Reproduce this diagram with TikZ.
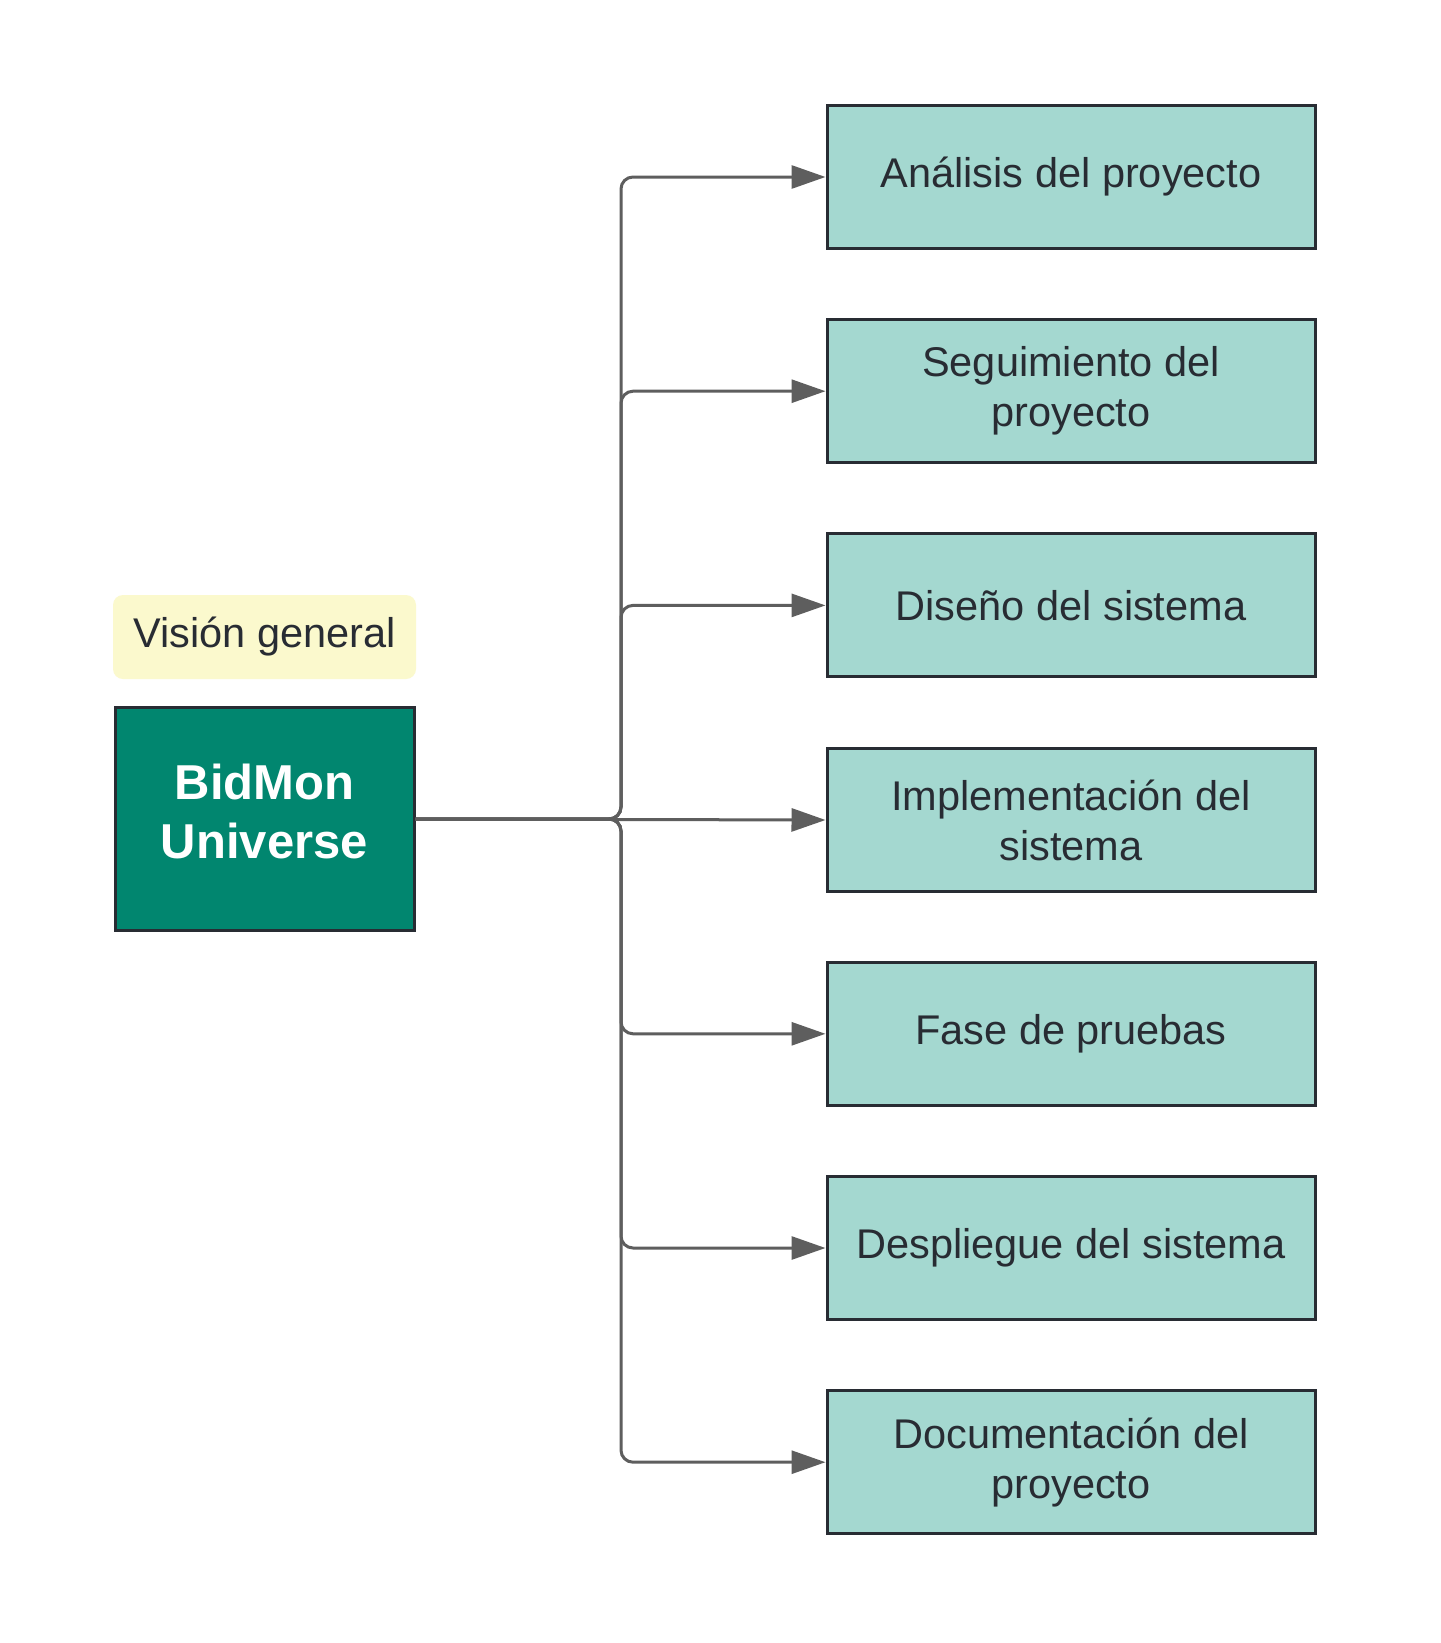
\documentclass[tikz,border=0pt]{standalone}
\usepackage{fontspec}
\setmainfont{Liberation Sans}
\usetikzlibrary{arrows.meta}
\definecolor{boxfill}{HTML}{A4D8D0}
\definecolor{mainfill}{HTML}{01866F}
\definecolor{edgedark}{HTML}{282C33}
\definecolor{conngray}{HTML}{5E5E5E}
\definecolor{notefill}{HTML}{FBF9CD}
\tikzset{
  phase/.style={draw=edgedark, line width=3pt, fill=boxfill, minimum width=488pt, minimum height=143pt,
    align=center, text=edgedark, font=\fontsize{41.5}{50}\selectfont, inner sep=0pt},
  mainbox/.style={draw=edgedark, line width=3pt, fill=mainfill, minimum width=299pt, minimum height=223pt,
    inner sep=0pt},
  maintext/.style={align=center, text=white, font=\bfseries\fontsize{49}{59}\selectfont, inner sep=0pt},
  note/.style={fill=notefill, rounded corners=10pt, minimum width=303pt, minimum height=84pt,
    text=edgedark, font=\fontsize{41.5}{50}\selectfont, inner sep=0pt},
  conn/.style={draw=conngray, line width=3pt, rounded corners=12pt, -{Triangle[length=34pt,width=23pt]}}
}
\begin{document}
\begin{tikzpicture}[x=1pt,y=-1pt]
\useasboundingbox (0,0) rectangle (1440,1643);
\fill[white] (0,0) rectangle (1440,1643);
\node[note] (vis) at (264.5,637) {Visión general};
\node[mainbox] (main) at (264.5,819) {};
\node[maintext] (maint) at ([yshift=8pt]main.center) {BidMon\\Universe};
\node[phase] (b1) at (1071,177) {Análisis del proyecto};
\node[phase] (b2) at (1071,391.2) {Seguimiento del\\proyecto};
\node[phase] (b3) at (1071,605.4) {Diseño del sistema};
\node[phase] (b4) at (1071,820) {Implementación del\\sistema};
\node[phase] (b5) at (1071,1033.8) {Fase de pruebas};
\node[phase] (b6) at (1071,1248) {Despliegue del sistema};
\node[phase] (b7) at (1071,1462.2) {Documentación del\\proyecto};
\coordinate (j) at (621,819);
\foreach \b in {b1,b2,b3,b5,b6,b7}{
  \draw[conn] (main.east) -- (j) |- (\b.west);
}
\draw[conn] (main.east) -- (b4.west);
\end{tikzpicture}
\end{document}
